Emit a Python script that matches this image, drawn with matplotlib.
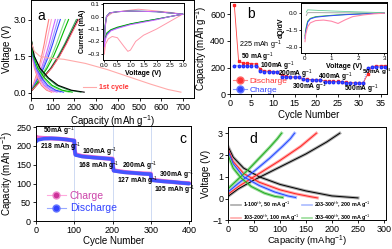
import matplotlib
matplotlib.use('Agg')
import matplotlib.pyplot as plt
from matplotlib.lines import Line2D

plt.rcParams['font.family'] = ['Liberation Sans', 'DejaVu Sans']
plt.rcParams['mathtext.fontset'] = 'custom'
plt.rcParams['mathtext.rm'] = 'Liberation Sans'
plt.rcParams['mathtext.bf'] = 'Liberation Sans:bold'
plt.rcParams['axes.linewidth'] = 0.7
plt.rcParams['xtick.major.size'] = 2
plt.rcParams['ytick.major.size'] = 2
plt.rcParams['xtick.major.width'] = 0.6
plt.rcParams['ytick.major.width'] = 0.6
plt.rcParams['xtick.major.pad'] = 1.5
plt.rcParams['ytick.major.pad'] = 1.5

# ---- panel a: charge/discharge profiles (capacity read at fixed voltages)
a_chg_volt = [0.05, 0.5, 1.0, 1.5, 2.0, 2.5, 3.0]
a_chg_caps = [
    [0, 17, 35, 49, 61, 71, 82],
    [0, 20, 40, 56, 70, 82, 94],
    [0, 24, 48, 67, 83, 97, 112],
    [0, 26, 53, 74, 92, 108, 124],
    [0, 28, 58, 81, 100, 117, 135],
    [0, 33, 68, 95, 117, 137, 158],
    [0, 36, 74, 104, 128, 150, 173],
    [0, 44, 90, 125, 155, 182, 209],
    [0, 45, 93, 130, 160, 188, 216],
    [0, 46, 95, 132, 163, 191, 220],
]
a_dis_volt = [2.25, 1.5, 1.0, 0.6, 0.3, 0.1, 0.02]
a_dis_caps = [
    [0, 6, 16, 31, 48, 72, 95],
    [0, 6, 18, 35, 54, 80, 105],
    [0, 7, 20, 40, 61, 91, 120],
    [0, 8, 23, 45, 69, 103, 135],
    [0, 9, 26, 50, 77, 114, 150],
    [0, 11, 30, 58, 89, 133, 175],
    [0, 11, 32, 63, 97, 144, 190],
    [0, 14, 39, 76, 117, 175, 230],
    [0, 15, 42, 81, 125, 186, 245],
]
a_colors = ['#ff8080', '#ffaacc', '#cc66ff', '#9999ff', '#3344ff',
            '#88dd88', '#00bb00', '#33aa55', 'black', '#ff6677']
a_first_cap = [0, 15, 40, 80, 150, 250, 350, 450, 550, 630, 690]
a_first_volt = [2.1, 1.7, 1.5, 1.42, 1.37, 1.2, 0.95, 0.65, 0.35, 0.13, 0.02]

# inset a: cyclic voltammetry
cv_first_cat_v = [3.0, 2.5, 2.0, 1.5, 1.2, 1.0, 0.9, 0.75, 0.5, 0.3, 0.15, 0.05, 0.0]
cv_first_cat_i = [0.02, -0.04, -0.1, -0.15, -0.2, -0.27, -0.28, -0.24, -0.17, -0.16, -0.18, -0.22, -0.3]
cv_first_an_v = [0.0, 0.02, 0.1, 0.3, 0.7, 1.3, 1.8, 2.5, 3.0]
cv_first_an_i = [-0.3, -0.1, 0.0, 0.03, 0.045, 0.06, 0.05, 0.035, 0.02]
cv_cat_v = [3.0, 2.5, 2.0, 1.5, 1.0, 0.5, 0.25, 0.1, 0.03, 0.0]
cv_cat_i = {
    '#3344ff': [0.02, 0.0, -0.02, -0.04, -0.06, -0.09, -0.11, -0.14, -0.18, -0.22],
    '#00aa00': [0.02, 0.0, -0.02, -0.038, -0.058, -0.085, -0.105, -0.13, -0.17, -0.2],
    '#cc66ff': [0.02, 0.0, -0.025, -0.045, -0.065, -0.095, -0.115, -0.15, -0.19, -0.24],
}
cv_an_v = [0.0, 0.03, 0.08, 0.2, 0.5, 1.0, 2.0, 3.0]
cv_an_i = {
    '#3344ff': [-0.22, -0.08, 0.0, 0.03, 0.04, 0.045, 0.04, 0.02],
    '#00aa00': [-0.2, -0.07, 0.0, 0.03, 0.04, 0.045, 0.04, 0.02],
    '#cc66ff': [-0.24, -0.09, 0.0, 0.03, 0.04, 0.045, 0.04, 0.02],
}

# ---- panel b: rate capability
b_cycles = list(range(1, 37))
b_discharge = [670, 250, 235, 232, 230, 228, 190, 176, 173, 171, 170, 145,
               135, 132, 131, 130, 116, 113, 111, 110, 110, 100, 98, 97,
               97, 96, 90, 88, 88, 87, 87, 150, 208, 212, 214, 215]
b_charge = [215, 216, 215, 214, 213, 213, 172, 170, 170, 169, 169, 132,
            130, 129, 129, 128, 112, 110, 109, 109, 108, 96, 95, 95,
            94, 94, 86, 85, 85, 84, 84, 195, 203, 205, 206, 206]

# inset b: dQ/dV
dq_pink_v = [0.0, 0.03, 0.1, 0.2, 0.4, 0.7, 1.0, 1.25, 1.5, 1.8, 2.2, 2.6, 3.0]
dq_pink = [-2.5, -1.8, -1.2, -0.85, -0.65, -0.6, -0.7, -0.9, -0.6, -0.3, -0.15, -0.05, 0.0]
dq_v = [0.0, 0.03, 0.1, 0.2, 0.4, 0.8, 1.2, 1.6, 2.0, 2.5, 3.0]
dq_blue = [-2.2, -1.6, -0.8, -0.5, -0.35, -0.25, -0.18, -0.12, -0.08, -0.03, 0.0]
dq_green = [-2.0, -1.4, -0.7, -0.45, -0.3, -0.22, -0.15, -0.1, -0.06, -0.02, 0.0]
dq_up_v = [0.05, 0.1, 0.5, 1.0, 2.0, 3.0]
dq_up_teal = [0.1, 0.3, 0.25, 0.2, 0.12, 0.05]
dq_up_gray = [-0.2, 0.05, 0.05, 0.04, 0.03, 0.0]

# ---- panel c: long cycling
c_cycles = [1, 5, 20, 40, 60, 80, 100, 101, 103, 120, 150, 180, 200, 201, 203,
            230, 260, 280, 300, 301, 303, 330, 360, 380, 400]
c_discharge = [212, 216, 219, 220, 219, 217, 214, 190, 176, 172, 169, 167, 165,
               147, 134, 130, 128, 126, 125, 114, 109, 106, 104, 102, 100]
c_charge = [224, 222, 221, 220, 219, 217, 214, 190, 178, 173, 170, 167, 166,
            147, 135, 131, 128, 127, 126, 114, 110, 107, 104, 102, 101]

# ---- panel d: profiles at different rates
d_labels = ['1-100$^{th}$, 50 mA g$^{-1}$', '103-200$^{th}$, 100 mA g$^{-1}$',
            '203-300$^{th}$, 200 mA g$^{-1}$', '303-400$^{th}$, 300 mA g$^{-1}$']
d_light = ['#aaaaaa', '#ffaaaa', '#aabbff', '#99dd99']
d_dark = ['black', '#ff2222', '#2244ff', '#22aa22']
d_chg_cap = [[0, 20, 50, 100, 150, 190, 215],
             [0, 20, 50, 100, 140, 160, 170],
             [0, 20, 50, 80, 105, 120, 128],
             [0, 20, 40, 60, 80, 95, 103]]
d_chg_volt = [[0.1, 0.45, 0.85, 1.45, 2.05, 2.6, 3.0],
              [0.2, 0.55, 1.0, 1.75, 2.4, 2.8, 3.0],
              [0.3, 0.7, 1.25, 1.85, 2.4, 2.75, 3.0],
              [0.45, 0.9, 1.35, 1.85, 2.35, 2.75, 3.0]]
d_dis_cap = [[0, 10, 30, 60, 100, 150, 200, 250],
             [0, 10, 30, 60, 100, 130, 160, 172],
             [0, 10, 30, 60, 90, 115, 130],
             [0, 10, 25, 45, 70, 90, 105]]
d_dis_volt = [[2.4, 1.9, 1.4, 1.0, 0.65, 0.35, 0.12, 0.03],
              [2.3, 1.7, 1.15, 0.75, 0.4, 0.22, 0.08, 0.03],
              [2.2, 1.6, 1.0, 0.6, 0.3, 0.12, 0.05],
              [2.0, 1.4, 0.95, 0.55, 0.25, 0.1, 0.05]]

TICK = 6.5
LAB = 7

fig = plt.figure(figsize=(3.92, 2.49), dpi=100)

# ================= panel a
ax = fig.add_axes([0.079, 0.6064, 0.4158, 0.3916])
for caps, col in zip(a_chg_caps, a_colors):
    ax.plot(caps, a_chg_volt, color=col, lw=0.8)
for caps, col in zip(a_dis_caps, a_colors):
    ax.plot(caps, a_dis_volt, color=col, lw=0.8)
ax.plot(a_first_cap, a_first_volt, color='#ffaaaa', lw=0.8)
ax.plot([240, 300], [0.22, 0.22], color='#ffaaaa', lw=0.8)
ax.text(312, 0.22, '1st cycle', color='#ff3333', fontsize=5, fontweight='bold', va='center')
ax.text(28, 3.15, 'a', fontsize=10, va='center')
ax.set_xlim(0, 750)
ax.set_ylim(-0.22, 3.78)
ax.set_xticks(range(0, 701, 100))
ax.set_yticks([0.0, 1.5, 3.0])
ax.set_yticklabels(['0.0', '1.5', '3.0'])
ax.tick_params(labelsize=TICK)
ax.set_xlabel('Capacity (mAh g$^{-1}$)', fontsize=LAB, labelpad=1)
ax.set_ylabel('Voltage (V)', fontsize=LAB, labelpad=1)

ins = fig.add_axes([0.2628, 0.759, 0.2066, 0.2289])
ins.plot(cv_first_cat_v, cv_first_cat_i, color='#ff99aa', lw=0.7)
ins.plot(cv_first_an_v, cv_first_an_i, color='#ff99aa', lw=0.7)
for col in cv_cat_i:
    ins.plot(cv_cat_v, cv_cat_i[col], color=col, lw=0.7)
    ins.plot(cv_an_v, cv_an_i[col], color=col, lw=0.7)
ins.set_xlim(-0.05, 3.05)
ins.set_ylim(-0.35, 0.11)
ins.set_xticks([0.0, 0.5, 1.0, 1.5, 2.0, 2.5, 3.0])
ins.set_yticks([0.1, 0.0, -0.1, -0.2, -0.3])
ins.tick_params(labelsize=4.5, length=1.5, pad=1)
ins.set_xlabel('Voltage (V)', fontsize=5, fontweight='bold', labelpad=1)
ins.set_ylabel('Current (mA)', fontsize=5, fontweight='bold', labelpad=1)

# ================= panel b
ax = fig.add_axes([0.5867, 0.6205, 0.4005, 0.3715])
ax.plot(b_cycles, b_discharge, color='#ff4444', lw=0.6, marker='s', ms=1.8, mec='#ff2222')
ax.plot(b_cycles, b_charge, color='#4455ff', lw=0.6, ls=':', marker='o', ms=1.8, mec='#2233ff')
ax.set_xlim(0, 36.5)
ax.set_ylim(0, 690)
ax.set_xticks(range(0, 36, 5))
ax.set_yticks([0, 200, 400, 600])
ax.tick_params(labelsize=TICK)
ax.set_xlabel('Cycle Number', fontsize=LAB, labelpad=1)
ax.set_ylabel('Capacity (mAh g$^{-1}$)', fontsize=LAB, labelpad=1)
ax.text(4.0, 600, 'b', fontsize=10, va='center')
ax.text(2.2, 368, '225 mAh g$^{-1}$', fontsize=5.2, va='center')
ax.text(2.6, 280, '50 mA g$^{-1}$', fontsize=4.8, fontweight='bold', va='center')
ax.text(7.0, 212, '100mA g$^{-1}$', fontsize=4.8, fontweight='bold', va='center')
ax.text(11.2, 148, '200mA g$^{-1}$', fontsize=4.8, fontweight='bold', va='center')
ax.text(14.4, 52, '300mA g$^{-1}$', fontsize=4.8, fontweight='bold', va='center')
ax.text(20.5, 130, '400mA g$^{-1}$', fontsize=4.8, fontweight='bold', va='center')
ax.text(26.6, 40, '500mA g$^{-1}$', fontsize=4.8, fontweight='bold', va='center')
ax.text(30.6, 167, '50mA g$^{-1}$', fontsize=4.6, fontweight='bold', va='center')
hb = [Line2D([], [], color='#ff8888', lw=0.8, marker='o', ms=5, mfc='#ff3333', mec='#ff6666'),
      Line2D([], [], color='#8899ff', lw=0.8, marker='o', ms=5, mfc='#3344ff', mec='#6677ff')]
leg = ax.legend(hb, ['Discharge', 'Charge'], loc='lower left', bbox_to_anchor=(0.0, -0.03),
                fontsize=6, frameon=False, handlelength=1.6, handletextpad=0.3,
                labelspacing=0.1, borderaxespad=0.0)
leg.get_texts()[0].set_color('#ff3333')
leg.get_texts()[1].set_color('#3344ff')

ins = fig.add_axes([0.7679, 0.7871, 0.2194, 0.2008])
ins.plot(dq_up_v, dq_up_gray, color='#999999', lw=0.6)
ins.plot(dq_up_v, dq_up_teal, color='#66cc99', lw=0.6)
ins.plot(dq_v, dq_green, color='#33cc33', lw=0.7)
ins.plot(dq_v, dq_blue, color='#3344ff', lw=0.7)
ins.plot(dq_pink_v, dq_pink, color='#ff88aa', lw=0.8)
ins.set_xlim(-0.15, 3.1)
ins.set_ylim(-3.5, 0.9)
ins.set_xticks([0, 1, 2, 3])
ins.set_yticks([0.0, -1.5, -3.0])
ins.tick_params(labelsize=4.5, length=1.5, pad=1)
ins.set_xlabel('Voltage (V)', fontsize=5, fontweight='bold', labelpad=1)
ins.set_ylabel('dQ/dV', fontsize=5, fontweight='bold', labelpad=0.5)

# ================= panel c
ax = fig.add_axes([0.0918, 0.1112, 0.3954, 0.3815])
for xv in [100, 200, 300]:
    ax.axvline(xv, color='#bbccee', lw=0.5)
ax.plot(c_cycles, c_charge, color='#ee66cc', lw=3.0, solid_capstyle='round')
ax.plot(c_cycles, c_discharge, color='#4455ff', lw=2.6, solid_capstyle='round')
ax.set_xlim(0, 405)
ax.set_ylim(0, 252)
ax.set_xticks(range(0, 401, 100))
ax.set_yticks(range(0, 251, 50))
ax.tick_params(labelsize=TICK)
ax.set_xlabel('Cycle Number', fontsize=LAB, labelpad=0.5)
ax.set_ylabel('Capacity (mAh g$^{-1}$)', fontsize=LAB, labelpad=1)
ax.text(375, 219, 'c', fontsize=10, va='center')
for tx, ty, s in [(18, 239, '50mA g$^{-1}$'), (11, 195, '218 mAh g$^{-1}$'),
                  (120, 184, '100mA g$^{-1}$'), (111, 145, '168 mAh g$^{-1}$'),
                  (225, 145, '200mA g$^{-1}$'), (212, 105, '127 mAh g$^{-1}$'),
                  (322, 123, '300mA g$^{-1}$'), (308, 83, '105 mAh g$^{-1}$')]:
    ax.text(tx, ty, s, fontsize=4.9, fontweight='bold', va='center')
hc = [Line2D([], [], color='#ffaadd', lw=0.8, marker='o', ms=5, mfc='#cc3399', mec='#ee88cc'),
      Line2D([], [], color='#99aaff', lw=0.8, marker='o', ms=5, mfc='#3344ff', mec='#6677ff')]
leg = ax.legend(hc, ['Charge', 'Discharge'], loc='lower left', bbox_to_anchor=(0.03, 0.02),
                fontsize=7.5, frameon=False, handlelength=1.8, handletextpad=0.4,
                labelspacing=0.2, borderaxespad=0.2)
leg.get_texts()[0].set_color('#cc44aa')
leg.get_texts()[1].set_color('#3344ff')

# ================= panel d
ax = fig.add_axes([0.5816, 0.1152, 0.4031, 0.3759])
for i in range(4):
    ax.plot(d_chg_cap[i], d_chg_volt[i], color=d_light[i], lw=2.2)
    ax.plot(d_dis_cap[i], d_dis_volt[i], color=d_light[i], lw=2.2)
for i in range(4):
    ax.plot(d_chg_cap[i], d_chg_volt[i], color=d_dark[i], lw=0.7)
    ax.plot(d_dis_cap[i], d_dis_volt[i], color=d_dark[i], lw=0.7)
ax.set_xlim(0, 304)
ax.set_ylim(-1, 3.3)
ax.set_xticks(range(0, 301, 50))
ax.set_yticks([-1, 0, 1, 2, 3])
ax.tick_params(labelsize=TICK)
ax.set_xlabel('Capacity (mAhg$^{-1}$)', fontsize=6.8, labelpad=0)
ax.set_ylabel('Voltage (V)', fontsize=LAB, labelpad=1)
ax.text(42, 2.75, 'd', fontsize=10, va='center')
hd = [Line2D([], [], color=c, lw=1.2) for c in d_light]
ax.legend(hd, d_labels, loc='lower left', bbox_to_anchor=(-0.01, -0.08), ncol=2,
          frameon=False, handlelength=1.8, handletextpad=0.3,
          columnspacing=0.5, labelspacing=0.5, prop={'weight': 'bold', 'size': 3.9})

fig.savefig('out.png', dpi=100)
